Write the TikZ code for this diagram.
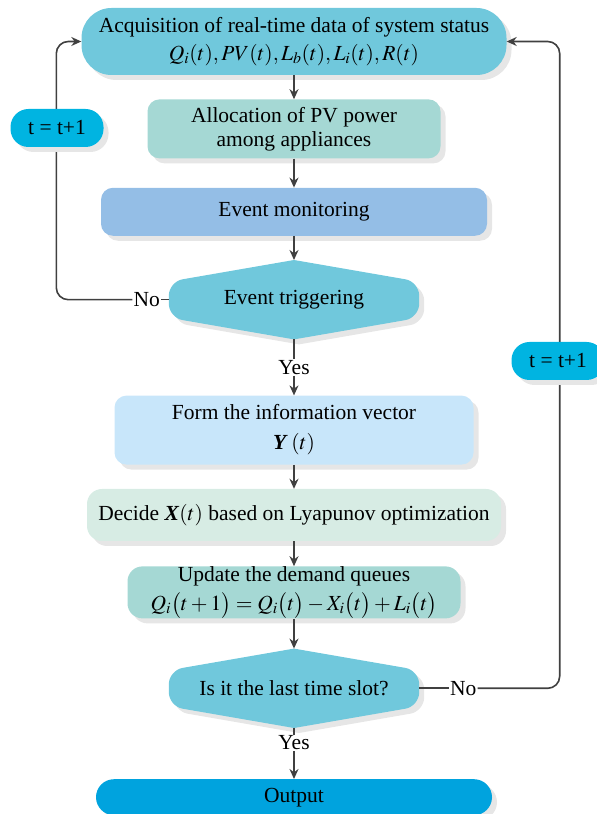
\documentclass[tikz,border=0pt]{standalone}
\usepackage{mathptmx}
\usepackage{fontspec}
\setmainfont{Liberation Serif}
\usetikzlibrary{%
	calc,%
	arrows.meta,%
	shadows,%
	positioning,%
	backgrounds,%
}
\definecolor{cteal}{RGB}{112, 200, 220}
\definecolor{cmint}{RGB}{165, 216, 212}
\definecolor{cbluesoft}{RGB}{148, 190, 230}
\definecolor{cskylight}{RGB}{200, 230, 250}
\definecolor{cmintlight}{RGB}{215, 236, 228}
\definecolor{coutput}{RGB}{0, 163, 222}
\definecolor{cstep}{RGB}{0, 180, 225}
\definecolor{cline}{RGB}{64, 64, 64}
\definecolor{cshadow}{RGB}{230, 230, 230}
\tikzset{
	>={Stealth[length=10pt, width=9pt]},%
	nodes={align=center, font={\fontsize{21.5}{26}\selectfont}},%
	boxshadow/.style={%
			drop shadow={shadow xshift=5pt, shadow yshift=-5pt, fill=cshadow, opacity=1}},%
	procnode/.style={%
			rectangle,%
			rounded corners=12pt,%
			inner sep=0,%
			boxshadow},%
	stepnode/.style={%
			rectangle,%
			rounded corners=18pt,%
			fill=cstep,%
			minimum width=93pt,%
			minimum height=38pt,%
			inner sep=0,%
			boxshadow},%
	decisionnode/.style={%
			rectangle,%
			inner sep=0,%
			minimum width=250pt,%
			minimum height=79pt},%
	labelnode/.style={inner sep=1pt},%
	link/.style={draw=cline, line width=1.6pt},%
	flow/.style={link, ->},%
}
% six-sided decision box with rounded sides and its shadow
\newcommand{\decisionshape}[2]{%
	\foreach \dx/\dy/\col in {5pt/-5pt/cshadow, 0pt/0pt/#2} {%
			\fill[\col] ($(#1.north)+(\dx,\dy)$) [rounded corners=14pt]
			-- ($(#1.east)+(\dx,18pt+\dy)$) -- ($(#1.east)+(\dx,-18pt+\dy)$) [sharp corners]
			-- ($(#1.south)+(\dx,\dy)$) [rounded corners=14pt]
			-- ($(#1.west)+(\dx,-18pt+\dy)$) -- ($(#1.west)+(\dx,18pt+\dy)$) [sharp corners]
			-- cycle;%
		}%
}

\begin{document}
\begin{tikzpicture}[x=1pt, y=1pt]%
	\useasboundingbox (0,0) rectangle (597,814);

	\node[procnode, fill=cteal, rounded corners=30pt, minimum width=425pt, minimum height=67pt] (acq) at (294,772.5) {Acquisition of real-time data of system status\\[2pt]
		$Q_i(t), PV(t), L_b(t), L_i(t), R(t)$};

	\node[procnode, fill=cmint, minimum width=293pt, minimum height=59pt] (alloc) [below=24pt of acq] {Allocation of PV power\\[-2pt] among appliances};

	\node[procnode, fill=cbluesoft, minimum width=386pt, minimum height=48pt] (mon) [below=29pt of alloc] {Event monitoring};

	\node[decisionnode] (trig) [below=24pt of mon] {Event triggering};

	\node[procnode, fill=cskylight, minimum width=359pt, minimum height=69pt] (form) [below=56pt of trig] {Form the information vector\\[4pt]
		\textbf{\textit{Y}}\,$(t)$};

	\node[procnode, fill=cmintlight, rounded corners=15pt, minimum width=414pt, minimum height=52pt] (decide) [below=24pt of form] {Decide \textbf{\textit{X}}$(t)$ based on Lyapunov optimization};

	\node[procnode, fill=cmint, rounded corners=15pt, minimum width=333pt, minimum height=52pt] (update) [below=25pt of decide] {Update the demand queues\\[3pt]
		$Q_i\bigl(t+1\bigr)=Q_i\bigl(t\bigr)-X_i\bigl(t\bigr)+L_i\bigl(t\bigr)$};

	\node[decisionnode] (last) [below=30pt of update] {Is it the last time slot?};

	\node[procnode, fill=coutput, rounded corners=18pt, minimum width=396pt, minimum height=36pt] (out) [below=51pt of last] {Output};

	\begin{scope}[on background layer]
		\decisionshape{trig}{cteal}
		\decisionshape{last}{cteal}
	\end{scope}

	\node[labelnode] (no1) at ($(trig.west)+(-22pt,0)$) {No};
	\node[labelnode] (yes1) at ($(trig.south)+(0,-28pt)$) {Yes};
	\node[labelnode] (no2) at ($(last.east)+(44pt,0)$) {No};
	\node[labelnode] (yes2) at ($(last.south)+(0,-15pt)$) {Yes};

	\draw[flow] (acq) -- (alloc);
	\draw[flow] (alloc) -- (mon);
	\draw[flow] (mon) -- (trig);
	\draw[link] (trig) -- (yes1);
	\draw[flow] (yes1) -- (form);
	\draw[flow] (form) -- (decide);
	\draw[flow] (decide) -- (update);
	\draw[flow] (update) -- (last);
	\draw[link] (last) -- (yes2);
	\draw[flow] (yes2) -- (out);

	\draw[link] (trig.west) -- (no1);
	\draw[flow, rounded corners=12pt] (no1) -| ($(acq.west)+(-25pt,0)$) -- (acq.west);
	\draw[link] (last.east) -- (no2);
	\draw[flow, rounded corners=12pt] (no2) -| ($(acq.east)+(53pt,0)$) -- (acq.east);

	\node[stepnode] (stepl) at (57,686) {t = t+1};
	\node[stepnode] (stepr) at (558,453) {t = t+1};
\end{tikzpicture}
\end{document}
